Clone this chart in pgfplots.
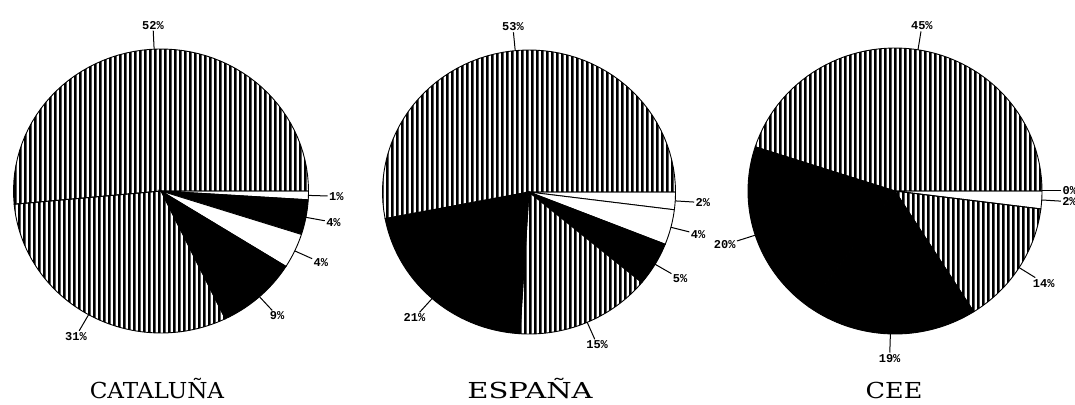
\documentclass[border=0pt]{standalone}
\usepackage{fontspec}
\setmainfont{DejaVu Serif}
\newfontfamily\lblfont{Liberation Mono}
\usepackage{pgfplots}
\usepackage{pgfplotstable}
\pgfplotsset{compat=1.18}
\usetikzlibrary{patterns}

\pgfdeclarepatternformonly{vstripes}{\pgfqpoint{0pt}{0pt}}{\pgfqpoint{4.6pt}{60pt}}{\pgfqpoint{4.6pt}{60pt}}{%
  \pgfpathrectangle{\pgfqpoint{0pt}{0pt}}{\pgfqpoint{2.8pt}{60pt}}\pgfusepath{fill}}

\pgfplotsset{
  pie/.style={scale only axis, hide axis, clip=false, xmin=-1, xmax=1, ymin=-1, ymax=1, anchor=center},
  pieW/.style={fill=white},
  pieB/.style={fill=black},
  pieH/.style={pattern=vstripes, pattern color=black},
}
\tikzset{lbl/.style={font=\lblfont\bfseries\fontsize{12}{12}\selectfont, inner sep=1pt}}

% values clockwise from the east
\pgfplotstableread{
value fill
1  pieW
4  pieB
4  pieW
9  pieB
31 pieH
52 pieH
}\catdata
\pgfplotstableread{
value fill
2  pieW
4  pieW
5  pieB
15 pieH
21 pieB
53 pieH
}\espdata
\pgfplotstableread{
value fill
0  pieW
2  pieW
14 pieH
19 pieB
20 pieB
45 pieH
}\ceedata

\newcommand\slice[2]{%
  \pgfmathsetmacro\sA{-(\cum/\tot)*360}%
  \pgfmathsetmacro\newcum{\cum+#1}\xdef\cum{\newcum}%
  \pgfmathsetmacro\sB{-(\cum/\tot)*360}%
  \pgfmathsetmacro\sM{(\sA+\sB)/2}%
  \pgfmathsetmacro\mcA{cos(\sM)}\pgfmathsetmacro\msA{sin(\sM)}%
  \pgfmathsetmacro\mcB{1.13*cos(\sM)}\pgfmathsetmacro\msB{1.13*sin(\sM)}%
  \pgfmathsetmacro\lanc{mod(\sM+540,360)}%
  \ifdim #1pt=0pt
    \pgfmathsetmacro\ecx{cos(\sA)}\pgfmathsetmacro\esy{sin(\sA)}%
    \edef\doslice{\noexpand\addplot[black, line width=0.9pt] coordinates {(0,0) (\ecx,\esy)};}%
  \else
    \edef\doslice{\noexpand\addplot[draw=black, line width=0.9pt, #2, domain=\sB:\sA, samples=60] ({cos(x)},{sin(x)}) -- (axis cs:0,0) -- cycle;}%
  \fi
  \doslice
  \edef\dolabel{\noexpand\draw[line width=1pt] (axis cs:\mcA,\msA) -- (axis cs:\mcB,\msB) node[lbl, anchor=\lanc] {#1\noexpand\%};}%
  \dolabel
}

\newcommand\drawpie[1]{%
  \pgfplotstablegetrowsof{#1}\pgfmathtruncatemacro\nrows{\pgfplotsretval-1}%
  \gdef\cum{0}\gdef\tot{0}%
  \foreach \i in {0,...,\nrows}{%
    \pgfplotstablegetelem{\i}{value}\of#1%
    \pgfmathsetmacro\tmpT{\tot+\pgfplotsretval}\xdef\tot{\tmpT}%
  }%
  \foreach \i in {0,...,\nrows}{%
    \pgfplotstablegetelem{\i}{value}\of#1\let\val\pgfplotsretval
    \pgfplotstablegetelem{\i}{fill}\of#1\let\sty\pgfplotsretval
    \slice{\val}{\sty}%
  }%
}

\begin{document}
\begin{tikzpicture}[x=1pt,y=1pt]
\useasboundingbox (0,0) rectangle (1075,404);
\begin{axis}[pie, at={(161pt,213pt)}, width=295pt, height=284pt]
\drawpie{\catdata}
\end{axis}
\begin{axis}[pie, at={(529pt,212pt)}, width=293pt, height=284pt]
\drawpie{\espdata}
\end{axis}
\begin{axis}[pie, at={(895pt,213pt)}, width=294pt, height=286pt]
\drawpie{\ceedata}
\end{axis}
\node[anchor=base, font=\fontsize{22}{22}\selectfont, inner sep=0pt] at (157,6) {\scalebox{1.05}[1]{CATALUÑA}};
\node[anchor=base, font=\fontsize{22}{22}\selectfont, inner sep=0pt] at (530,6) {\scalebox{1.32}[1]{ESPAÑA}};
\node[anchor=base, font=\fontsize{22}{22}\selectfont, inner sep=0pt] at (894,6) {\scalebox{1.16}[1]{CEE}};
\end{tikzpicture}
\end{document}
